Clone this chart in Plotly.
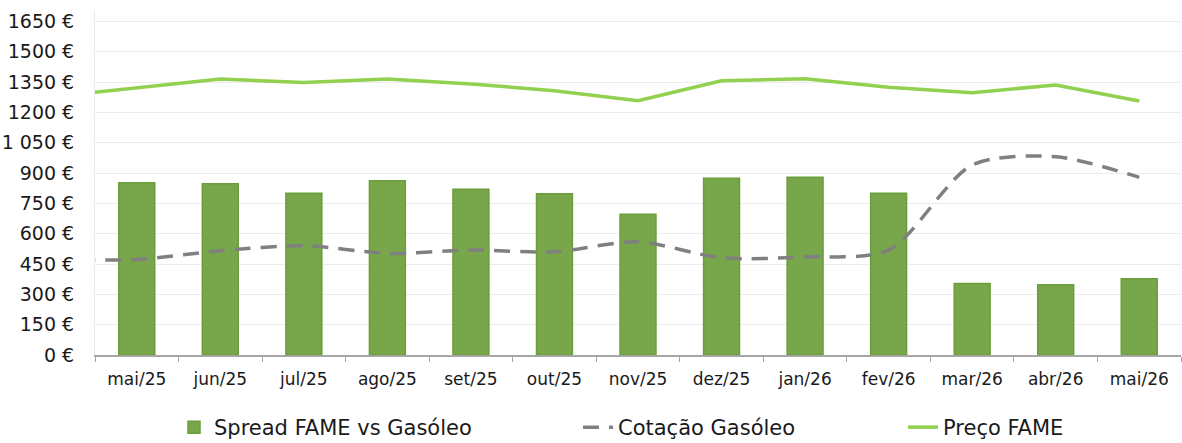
import plotly.graph_objects as go

# categories (abr/25 only feeds the lines; it sits just left of the visible range)
months = ["abr/25", "mai/25", "jun/25", "jul/25", "ago/25", "set/25", "out/25",
          "nov/25", "dez/25", "jan/26", "fev/26", "mar/26", "abr/26", "mai/26"]

spread = [None, 852, 847, 800, 862, 820, 798, 697, 874, 879, 800, 354, 348, 377]
cotacao = [472, 473, 516, 541, 503, 519, 511, 560, 481, 485, 519, 940, 981, 879]
preco = [1278, 1322, 1366, 1348, 1366, 1341, 1308, 1258, 1357, 1367, 1325, 1298, 1336, 1257]

y_ticks = [0, 150, 300, 450, 600, 750, 900, 1050, 1200, 1350, 1500, 1650]
y_labels = ["0 €", "150 €", "300 €", "450 €", "600 €", "750 €", "900 €",
            "1 050 €", "1200 €", "1350 €", "1500 €", "1650 €"]

FONT = "DejaVu Sans"

fig = go.Figure()
fig.add_trace(go.Bar(
    x=months, y=spread, name="Spread FAME vs Gasóleo",
    marker=dict(color="#78A64A", line=dict(color="#6A9E3A", width=1.5)),
    legend="legend",
))
fig.add_trace(go.Scatter(
    x=months, y=cotacao, name="Cotação Gasóleo", mode="lines",
    line=dict(color="#808080", width=3.5, dash="16px,10px", shape="spline", smoothing=0.8),
    legend="legend2",
))
fig.add_trace(go.Scatter(
    x=months, y=preco, name="Preço FAME", mode="lines",
    line=dict(color="#92D050", width=3.5),
    legend="legend3",
))

legend_common = dict(
    orientation="h", xref="container", yref="container",
    y=0.035, yanchor="middle", xanchor="left",
    font=dict(family=FONT, size=21, color="#1a1a1a"),
    bgcolor="rgba(0,0,0,0)",
)

fig.update_layout(
    width=1182,
    height=443,
    margin=dict(l=95, r=1, t=10, b=88, autoexpand=False),
    paper_bgcolor="white",
    plot_bgcolor="white",
    bargap=0.57,
    showlegend=True,
    font=dict(family=FONT, color="#1a1a1a"),
    legend=dict(x=174 / 1182, **legend_common),
    legend2=dict(x=578 / 1182, **legend_common),
    legend3=dict(x=903 / 1182, **legend_common),
    xaxis=dict(
        type="category",
        categoryorder="array",
        categoryarray=months,
        range=[0.5, 13.5],
        tickson="boundaries",
        ticks="outside",
        ticklen=5,
        tickcolor="#a6a6a6",
        showline=True,
        linecolor="#a6a6a6",
        linewidth=1.5,
        showgrid=False,
        ticklabelstandoff=8,
        tickfont=dict(family=FONT, size=17, color="#1a1a1a"),
    ),
    yaxis=dict(
        range=[0, 1707],
        tickvals=y_ticks,
        ticktext=y_labels,
        showgrid=True,
        gridcolor="#ececec",
        gridwidth=1.2,
        showline=True,
        linecolor="#ececec",
        zeroline=False,
        ticks="",
        ticklabelstandoff=16,
        tickfont=dict(family=FONT, size=19, color="#1a1a1a"),
    ),
)

# drop the default 8px body margin so the figure sits at the window's corner
fig.write_html(
    "out.html",
    config={"displayModeBar": False},
    post_script="document.body.style.margin='0';",
)
